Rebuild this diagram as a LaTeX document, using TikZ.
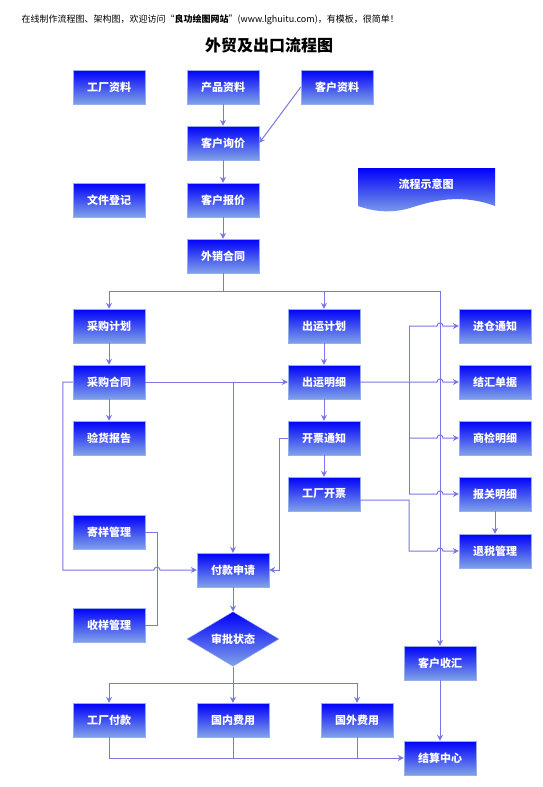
\documentclass[tikz,border=0pt]{standalone}
\usepackage{fontspec}
\setmainfont{Noto Sans CJK SC}
\usetikzlibrary{arrows.meta,shapes.geometric}

\definecolor{linec}{RGB}{120,120,228}
\definecolor{boxtop}{RGB}{0,0,250}
\definecolor{boxbot}{RGB}{128,162,232}
\definecolor{boxline}{RGB}{150,175,235}

\tikzset{
  box/.style={draw=boxline, top color=boxtop, bottom color=boxbot, text=white,
    minimum width=72pt, minimum height=34pt, inner sep=0pt,
    font=\bfseries\fontsize{11}{13}\selectfont},
  decide/.style={box, diamond, minimum width=92pt, minimum height=46pt},
  flow/.style={draw=linec, line width=1pt, -{Stealth[length=6pt,width=6pt]}},
  link/.style={draw=linec, line width=1pt},
}

\begin{document}
\begin{tikzpicture}[x=1pt,y=-1pt]
		\fill[white] (0,0) rectangle (543,787);
		\useasboundingbox (0,0) rectangle (543,787);
		\node[anchor=west, font=\fontsize{9}{11}\selectfont] (head) at (18,20)
			{在线制作流程图、架构图，欢迎访问“\textbf{良功绘图网站}”(www.lghuitu.com)，有模板，很简单！};
		\node[font=\bfseries\fontsize{16}{19}\selectfont] (title) at (269,45) {外贸及出口流程图};
		% top rows
		\node[box] (gczl) at (109,87) {工厂资料};
		\node[box] (cpzl) at (223,87) {产品资料};
		\node[box] (khzl) at (337,87) {客户资料};
		\node[box] (khxj) at (223,143) {客户询价};
		\node[box] (wjdj) at (109,200) {文件登记};
		\node[box] (khbj) at (223,200) {客户报价};
		\node[box] (wxht) at (223,256) {外销合同};
		\shade[top color=boxtop, bottom color=boxbot] (358,168) -- (495,168) -- (495,206)
			.. controls (460,193) and (432,201) .. (410,208)
			.. controls (390,214) and (372,211) .. (358,206) -- cycle;
		\node[text=white, font=\bfseries\fontsize{11}{13}\selectfont] (lcsyt) at (426,184) {流程示意图};
		% middle rows
		\node[box] (cgjh) at (109,326) {采购计划};
		\node[box] (cyjh) at (324,326) {出运计划};
		\node[box] (jctz) at (495,326) {进仓通知};
		\node[box] (cght) at (109,382) {采购合同};
		\node[box] (cymx) at (324,382) {出运明细};
		\node[box] (jhdj) at (495,382) {结汇单据};
		\node[box] (yhbg) at (109,438) {验货报告};
		\node[box] (kptz) at (324,438) {开票通知};
		\node[box] (sjmx) at (495,438) {商检明细};
		\node[box] (gckp) at (324,494) {工厂开票};
		\node[box] (bgmx) at (495,494) {报关明细};
		\node[box] (jygl) at (109,532) {寄样管理};
		\node[box] (tsgl) at (495,551) {退税管理};
		\node[box] (fksq) at (233,570) {付款申请};
		\node[box] (sygl) at (109,625) {收样管理};
		\node[decide] (spzt) at (233,639) {审批状态};
		% bottom rows
		\node[box] (khsh) at (440,663) {客户收汇};
		\node[box] (gcfk) at (109,720) {工厂付款};
		\node[box] (gnfy) at (233,720) {国内费用};
		\node[box] (gwfy) at (357,720) {国外费用};
		\node[box] (jszx) at (440,758) {结算中心};
		\coordinate (tsplit) at (223,291);
		\coordinate (tright) at (440,291);
		\coordinate (bus) at (409,382);
		\coordinate (yangx) at (157,532);
		\coordinate (bsplit) at (233,683);
		% connectors
		\draw[flow] (cpzl) -- (khxj);
		\draw[flow] (khzl.west) -- (khxj.east);
		\draw[flow] (khxj) -- (khbj);
		\draw[flow] (khbj) -- (wxht);
		\draw[link] (wxht) -- (tsplit);
		\draw[flow] (tsplit) -| (cgjh);
		\draw[flow] (tsplit) -| (cyjh);
		\draw[flow] (tsplit) -| (khsh);
		\draw[flow] (cgjh) -- (cght);
		\draw[flow] (cght) -- (yhbg);
		\draw[flow] (cght) -- (cymx);
		\draw[flow] (cght.east -| fksq) -- (fksq);
		\draw[flow] (cght.west) -- ++(-10pt,0) |- ([xshift=-3pt]yangx |- fksq.west)
			arc[start angle=180, end angle=0, radius=3pt] -- (fksq.west);
		\draw[link] (jygl.east) -- (yangx) |- (sygl.east);
		\draw[flow] (kptz.west) -- ++(-8pt,0) |- (fksq.east);
		\draw[flow] (cyjh) -- (cymx);
		\draw[flow] (cymx) -- (kptz);
		\draw[flow] (kptz) -- (gckp);
		\draw[flow] (cymx.east) -- ([xshift=-3pt]tright |- jhdj.west)
			arc[start angle=180, end angle=0, radius=3pt] -- (jhdj.west);
		\draw[link] (bus |- jctz.west) -- (bus |- bgmx.west);
		\draw[flow] (bus |- jctz.west) -- ([xshift=-3pt]tright |- jctz.west)
			arc[start angle=180, end angle=0, radius=3pt] -- (jctz.west);
		\draw[flow] (bus |- sjmx.west) -- ([xshift=-3pt]tright |- sjmx.west)
			arc[start angle=180, end angle=0, radius=3pt] -- (sjmx.west);
		\draw[flow] (bus |- bgmx.west) -- ([xshift=-3pt]tright |- bgmx.west)
			arc[start angle=180, end angle=0, radius=3pt] -- (bgmx.west);
		\draw[flow] ([yshift=-6pt]gckp.east) -| (bus |- tsgl.west) -- ([xshift=-3pt]tright |- tsgl.west)
			arc[start angle=180, end angle=0, radius=3pt] -- (tsgl.west);
		\draw[flow] (bgmx) -- (tsgl);
		\draw[flow] (fksq) -- (spzt);
		\draw[flow] (spzt) -- (gnfy);
		\draw[flow] (bsplit) -| (gcfk);
		\draw[flow] (bsplit) -| (gwfy);
		\draw[flow] (khsh) -- (jszx);
		\draw[flow] (gcfk) |- (jszx.west);
		\draw[link] (gnfy) -- (gnfy.south |- jszx.west);
		\draw[link] (gwfy) -- (gwfy.south |- jszx.west);
	\end{tikzpicture}
\end{document}
